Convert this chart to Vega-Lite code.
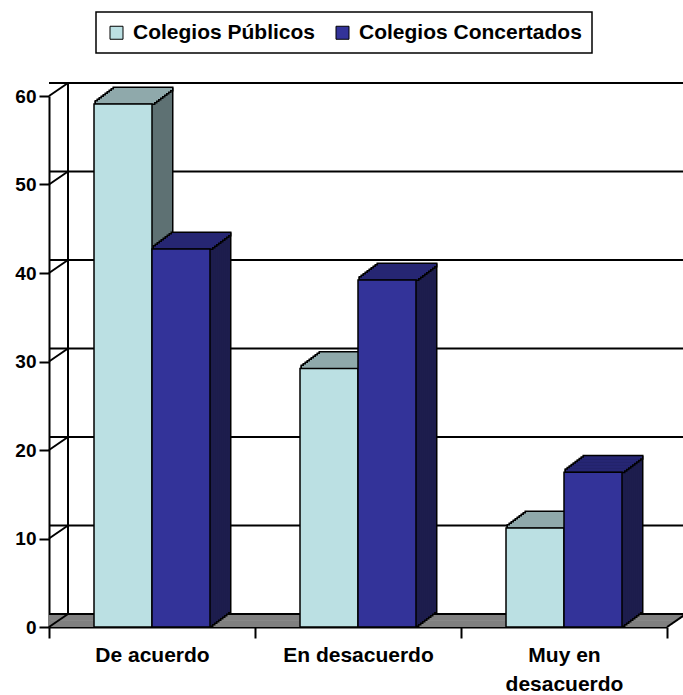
{
  "$schema": "https://vega.github.io/schema/vega-lite/v6.json",
  "width": 618,
  "height": 531,
  "autosize": {"type": "none"},
  "padding": {"left": 49, "top": 96, "right": 16, "bottom": 68},
  "background": "white",
  "config": {
    "view": {"stroke": null},
    "font": "Liberation Sans",
    "axis": {"domainColor": "black", "tickColor": "black", "labelColor": "black", "labelFont": "Liberation Sans", "labelFontWeight": "bold", "zindex": 1, "grid": false, "domainWidth": 2, "tickWidth": 2},
    "axisX": {"labelAngle": 0, "tickBand": "extent", "tickSize": 11, "labelPadding": 6, "labelFontSize": 21, "labelLineHeight": 29, "labelBaseline": "top", "labelExpr": "datum.value == 'Muy en desacuerdo' ? ['Muy en', 'desacuerdo'] : datum.value"},
    "axisY": {"tickCount": 6, "tickSize": 10, "labelPadding": 3, "labelFontSize": 19},
    "legend": {"strokeWidth": 1.5}
  },
  "datasets": {
    "bars": [
      {"cat": "De acuerdo", "serie": "Colegios Públicos", "v": 59.1},
      {"cat": "De acuerdo", "serie": "Colegios Concertados", "v": 42.7},
      {"cat": "En desacuerdo", "serie": "Colegios Públicos", "v": 29.2},
      {"cat": "En desacuerdo", "serie": "Colegios Concertados", "v": 39.2},
      {"cat": "Muy en desacuerdo", "serie": "Colegios Públicos", "v": 11.2},
      {"cat": "Muy en desacuerdo", "serie": "Colegios Concertados", "v": 17.5}
    ],
    "ticks": [{"t": 0}, {"t": 10}, {"t": 20}, {"t": 30}, {"t": 40}, {"t": 50}, {"t": 60}],
    "one": [{"k": 0}]
  },
  "layer": [
    {
      "data": {"name": "one"},
      "encoding": {"y": {"datum": 0, "type": "quantitative", "scale": {"domain": [0, 60], "nice": false}, "axis": {"title": null}}},
      "layer": [
        {"mark": {"type": "rule", "color": "#808080", "strokeWidth": 2.6, "xOffset": 2.71, "x2Offset": 2.71, "yOffset": -1.86}},
        {"mark": {"type": "rule", "color": "#808080", "strokeWidth": 2.6, "xOffset": 5.43, "x2Offset": 5.43, "yOffset": -3.71}},
        {"mark": {"type": "rule", "color": "#808080", "strokeWidth": 2.6, "xOffset": 8.14, "x2Offset": 8.14, "yOffset": -5.57}},
        {"mark": {"type": "rule", "color": "#808080", "strokeWidth": 2.6, "xOffset": 10.86, "x2Offset": 10.86, "yOffset": -7.43}},
        {"mark": {"type": "rule", "color": "#808080", "strokeWidth": 2.6, "xOffset": 13.57, "x2Offset": 13.57, "yOffset": -9.29}},
        {"mark": {"type": "rule", "color": "#808080", "strokeWidth": 2.6, "xOffset": 16.29, "x2Offset": 16.29, "yOffset": -11.14}}
      ]
    },
    {
      "data": {"name": "ticks"},
      "mark": {"type": "rule", "color": "black", "strokeWidth": 2, "xOffset": 19, "x2Offset": 80, "yOffset": -13},
      "encoding": {"y": {"field": "t", "type": "quantitative", "scale": {"domain": [0, 60], "nice": false}, "axis": {"title": null}}}
    },
    {
      "data": {"name": "ticks"},
      "mark": {"type": "rule", "color": "black", "strokeWidth": 2, "x2Offset": 19, "y2Offset": -13},
      "encoding": {
        "x": {"datum": "De acuerdo", "type": "nominal", "bandPosition": 0, "scale": {"domain": ["De acuerdo", "En desacuerdo", "Muy en desacuerdo"], "paddingInner": 0, "paddingOuter": 0}, "axis": {"title": null}},
        "x2": {"datum": "De acuerdo", "bandPosition": 0},
        "y": {"field": "t", "type": "quantitative", "scale": {"domain": [0, 60], "nice": false}, "axis": {"title": null}},
        "y2": {"field": "t"}
      }
    },
    {
      "data": {"name": "one"},
      "layer": [
        {
          "mark": {"type": "rule", "color": "black", "strokeWidth": 2, "xOffset": 19, "yOffset": -13, "y2Offset": -13},
          "encoding": {
            "x": {"datum": "De acuerdo", "type": "nominal", "bandPosition": 0, "scale": {"domain": ["De acuerdo", "En desacuerdo", "Muy en desacuerdo"], "paddingInner": 0, "paddingOuter": 0}, "axis": {"title": null}},
            "y": {"datum": 0, "type": "quantitative", "scale": {"domain": [0, 60], "nice": false}, "axis": {"title": null}},
            "y2": {"datum": 60}
          }
        },
        {
          "mark": {"type": "rule", "color": "black", "strokeWidth": 2, "x2Offset": 19, "y2Offset": -13},
          "encoding": {
            "x": {"datum": "Muy en desacuerdo", "type": "nominal", "bandPosition": 1, "scale": {"domain": ["De acuerdo", "En desacuerdo", "Muy en desacuerdo"], "paddingInner": 0, "paddingOuter": 0}, "axis": {"title": null}},
            "x2": {"datum": "Muy en desacuerdo", "bandPosition": 1},
            "y": {"datum": 0, "type": "quantitative", "scale": {"domain": [0, 60], "nice": false}, "axis": {"title": null}},
            "y2": {"datum": 0}
          }
        }
      ]
    },
    {
      "data": {"name": "bars"},
      "resolve": {"scale": {"xOffset": "independent"}},
      "encoding": {
        "x": {
          "field": "cat", "type": "nominal",
          "sort": ["De acuerdo", "En desacuerdo", "Muy en desacuerdo"],
          "scale": {"domain": ["De acuerdo", "En desacuerdo", "Muy en desacuerdo"], "paddingInner": 0, "paddingOuter": 0},
          "axis": {"title": null}
        },
        "xOffset": {
          "field": "serie", "type": "nominal",
          "sort": ["Colegios Públicos", "Colegios Concertados"],
          "scale": {"domain": ["Colegios Públicos", "Colegios Concertados"], "paddingInner": 0, "paddingOuter": 0.776}
        },
        "y": {
          "field": "v", "type": "quantitative",
          "scale": {"domain": [0, 60], "nice": false},
          "axis": {"title": null}
        }
      },
      "layer": [
        {"mark": {"type": "bar", "fill": "black", "stroke": "black", "strokeWidth": 3, "yOffset": -1.5, "y2Offset": -1.5}, "encoding": {"xOffset": {"field": "serie", "type": "nominal", "sort": ["Colegios Públicos", "Colegios Concertados"], "scale": {"domain": ["Colegios Públicos", "Colegios Concertados"], "paddingInner": 0, "paddingOuter": 0.776, "align": 0.52222}}}},
        {"mark": {"type": "bar", "fill": "black", "stroke": "black", "strokeWidth": 3, "yOffset": -3, "y2Offset": -3}, "encoding": {"xOffset": {"field": "serie", "type": "nominal", "sort": ["Colegios Públicos", "Colegios Concertados"], "scale": {"domain": ["Colegios Públicos", "Colegios Concertados"], "paddingInner": 0, "paddingOuter": 0.776, "align": 0.54444}}}},
        {"mark": {"type": "bar", "fill": "black", "stroke": "black", "strokeWidth": 3, "yOffset": -4.5, "y2Offset": -4.5}, "encoding": {"xOffset": {"field": "serie", "type": "nominal", "sort": ["Colegios Públicos", "Colegios Concertados"], "scale": {"domain": ["Colegios Públicos", "Colegios Concertados"], "paddingInner": 0, "paddingOuter": 0.776, "align": 0.56667}}}},
        {"mark": {"type": "bar", "fill": "black", "stroke": "black", "strokeWidth": 3, "yOffset": -6, "y2Offset": -6}, "encoding": {"xOffset": {"field": "serie", "type": "nominal", "sort": ["Colegios Públicos", "Colegios Concertados"], "scale": {"domain": ["Colegios Públicos", "Colegios Concertados"], "paddingInner": 0, "paddingOuter": 0.776, "align": 0.58889}}}},
        {"mark": {"type": "bar", "fill": "black", "stroke": "black", "strokeWidth": 3, "yOffset": -7.5, "y2Offset": -7.5}, "encoding": {"xOffset": {"field": "serie", "type": "nominal", "sort": ["Colegios Públicos", "Colegios Concertados"], "scale": {"domain": ["Colegios Públicos", "Colegios Concertados"], "paddingInner": 0, "paddingOuter": 0.776, "align": 0.61111}}}},
        {"mark": {"type": "bar", "fill": "black", "stroke": "black", "strokeWidth": 3, "yOffset": -9, "y2Offset": -9}, "encoding": {"xOffset": {"field": "serie", "type": "nominal", "sort": ["Colegios Públicos", "Colegios Concertados"], "scale": {"domain": ["Colegios Públicos", "Colegios Concertados"], "paddingInner": 0, "paddingOuter": 0.776, "align": 0.63333}}}},
        {"mark": {"type": "bar", "fill": "black", "stroke": "black", "strokeWidth": 3, "yOffset": -10.5, "y2Offset": -10.5}, "encoding": {"xOffset": {"field": "serie", "type": "nominal", "sort": ["Colegios Públicos", "Colegios Concertados"], "scale": {"domain": ["Colegios Públicos", "Colegios Concertados"], "paddingInner": 0, "paddingOuter": 0.776, "align": 0.65556}}}},
        {"mark": {"type": "bar", "fill": "black", "stroke": "black", "strokeWidth": 3, "yOffset": -12, "y2Offset": -12}, "encoding": {"xOffset": {"field": "serie", "type": "nominal", "sort": ["Colegios Públicos", "Colegios Concertados"], "scale": {"domain": ["Colegios Públicos", "Colegios Concertados"], "paddingInner": 0, "paddingOuter": 0.776, "align": 0.67778}}}},
        {"mark": {"type": "bar", "fill": "black", "stroke": "black", "strokeWidth": 3, "yOffset": -13.5, "y2Offset": -13.5}, "encoding": {"xOffset": {"field": "serie", "type": "nominal", "sort": ["Colegios Públicos", "Colegios Concertados"], "scale": {"domain": ["Colegios Públicos", "Colegios Concertados"], "paddingInner": 0, "paddingOuter": 0.776, "align": 0.7}}}},
        {"mark": {"type": "bar", "fill": "black", "stroke": "black", "strokeWidth": 3, "yOffset": -15, "y2Offset": -15}, "encoding": {"xOffset": {"field": "serie", "type": "nominal", "sort": ["Colegios Públicos", "Colegios Concertados"], "scale": {"domain": ["Colegios Públicos", "Colegios Concertados"], "paddingInner": 0, "paddingOuter": 0.776, "align": 0.72222}}}},

        {"mark": {"type": "bar", "strokeWidth": 0, "yOffset": -15, "y2Offset": -15}, "encoding": {"xOffset": {"field": "serie", "type": "nominal", "sort": ["Colegios Públicos", "Colegios Concertados"], "scale": {"domain": ["Colegios Públicos", "Colegios Concertados"], "paddingInner": 0, "paddingOuter": 0.776, "align": 0.72222}}, "fill": {"condition": {"test": "datum.serie === 'Colegios Públicos'", "value": "#5E7173"}, "value": "#1D1D4D"}}},
        {"mark": {"type": "bar", "strokeWidth": 0, "yOffset": -13.5, "y2Offset": -13.5}, "encoding": {"xOffset": {"field": "serie", "type": "nominal", "sort": ["Colegios Públicos", "Colegios Concertados"], "scale": {"domain": ["Colegios Públicos", "Colegios Concertados"], "paddingInner": 0, "paddingOuter": 0.776, "align": 0.7}}, "fill": {"condition": {"test": "datum.serie === 'Colegios Públicos'", "value": "#5E7173"}, "value": "#1D1D4D"}}},
        {"mark": {"type": "bar", "strokeWidth": 0, "yOffset": -12, "y2Offset": -12}, "encoding": {"xOffset": {"field": "serie", "type": "nominal", "sort": ["Colegios Públicos", "Colegios Concertados"], "scale": {"domain": ["Colegios Públicos", "Colegios Concertados"], "paddingInner": 0, "paddingOuter": 0.776, "align": 0.67778}}, "fill": {"condition": {"test": "datum.serie === 'Colegios Públicos'", "value": "#5E7173"}, "value": "#1D1D4D"}}},
        {"mark": {"type": "bar", "strokeWidth": 0, "yOffset": -10.5, "y2Offset": -10.5}, "encoding": {"xOffset": {"field": "serie", "type": "nominal", "sort": ["Colegios Públicos", "Colegios Concertados"], "scale": {"domain": ["Colegios Públicos", "Colegios Concertados"], "paddingInner": 0, "paddingOuter": 0.776, "align": 0.65556}}, "fill": {"condition": {"test": "datum.serie === 'Colegios Públicos'", "value": "#5E7173"}, "value": "#1D1D4D"}}},
        {"mark": {"type": "bar", "strokeWidth": 0, "yOffset": -9, "y2Offset": -9}, "encoding": {"xOffset": {"field": "serie", "type": "nominal", "sort": ["Colegios Públicos", "Colegios Concertados"], "scale": {"domain": ["Colegios Públicos", "Colegios Concertados"], "paddingInner": 0, "paddingOuter": 0.776, "align": 0.63333}}, "fill": {"condition": {"test": "datum.serie === 'Colegios Públicos'", "value": "#5E7173"}, "value": "#1D1D4D"}}},
        {"mark": {"type": "bar", "strokeWidth": 0, "yOffset": -7.5, "y2Offset": -7.5}, "encoding": {"xOffset": {"field": "serie", "type": "nominal", "sort": ["Colegios Públicos", "Colegios Concertados"], "scale": {"domain": ["Colegios Públicos", "Colegios Concertados"], "paddingInner": 0, "paddingOuter": 0.776, "align": 0.61111}}, "fill": {"condition": {"test": "datum.serie === 'Colegios Públicos'", "value": "#5E7173"}, "value": "#1D1D4D"}}},
        {"mark": {"type": "bar", "strokeWidth": 0, "yOffset": -6, "y2Offset": -6}, "encoding": {"xOffset": {"field": "serie", "type": "nominal", "sort": ["Colegios Públicos", "Colegios Concertados"], "scale": {"domain": ["Colegios Públicos", "Colegios Concertados"], "paddingInner": 0, "paddingOuter": 0.776, "align": 0.58889}}, "fill": {"condition": {"test": "datum.serie === 'Colegios Públicos'", "value": "#5E7173"}, "value": "#1D1D4D"}}},
        {"mark": {"type": "bar", "strokeWidth": 0, "yOffset": -4.5, "y2Offset": -4.5}, "encoding": {"xOffset": {"field": "serie", "type": "nominal", "sort": ["Colegios Públicos", "Colegios Concertados"], "scale": {"domain": ["Colegios Públicos", "Colegios Concertados"], "paddingInner": 0, "paddingOuter": 0.776, "align": 0.56667}}, "fill": {"condition": {"test": "datum.serie === 'Colegios Públicos'", "value": "#5E7173"}, "value": "#1D1D4D"}}},
        {"mark": {"type": "bar", "strokeWidth": 0, "yOffset": -3, "y2Offset": -3}, "encoding": {"xOffset": {"field": "serie", "type": "nominal", "sort": ["Colegios Públicos", "Colegios Concertados"], "scale": {"domain": ["Colegios Públicos", "Colegios Concertados"], "paddingInner": 0, "paddingOuter": 0.776, "align": 0.54444}}, "fill": {"condition": {"test": "datum.serie === 'Colegios Públicos'", "value": "#5E7173"}, "value": "#1D1D4D"}}},
        {"mark": {"type": "bar", "strokeWidth": 0, "yOffset": -1.5, "y2Offset": -1.5}, "encoding": {"xOffset": {"field": "serie", "type": "nominal", "sort": ["Colegios Públicos", "Colegios Concertados"], "scale": {"domain": ["Colegios Públicos", "Colegios Concertados"], "paddingInner": 0, "paddingOuter": 0.776, "align": 0.52222}}, "fill": {"condition": {"test": "datum.serie === 'Colegios Públicos'", "value": "#5E7173"}, "value": "#1D1D4D"}}},

        {"mark": {"type": "bar", "fill": "black", "stroke": "black", "strokeWidth": 3, "yOffset": -2.5, "y2Offset": -0.5}, "encoding": {"y2": {"field": "v"}, "xOffset": {"field": "serie", "type": "nominal", "sort": ["Colegios Públicos", "Colegios Concertados"], "scale": {"domain": ["Colegios Públicos", "Colegios Concertados"], "paddingInner": 0, "paddingOuter": 0.776, "align": 0.52222}}}},
        {"mark": {"type": "bar", "fill": "black", "stroke": "black", "strokeWidth": 3, "yOffset": -4, "y2Offset": -2}, "encoding": {"y2": {"field": "v"}, "xOffset": {"field": "serie", "type": "nominal", "sort": ["Colegios Públicos", "Colegios Concertados"], "scale": {"domain": ["Colegios Públicos", "Colegios Concertados"], "paddingInner": 0, "paddingOuter": 0.776, "align": 0.54444}}}},
        {"mark": {"type": "bar", "fill": "black", "stroke": "black", "strokeWidth": 3, "yOffset": -5.5, "y2Offset": -3.5}, "encoding": {"y2": {"field": "v"}, "xOffset": {"field": "serie", "type": "nominal", "sort": ["Colegios Públicos", "Colegios Concertados"], "scale": {"domain": ["Colegios Públicos", "Colegios Concertados"], "paddingInner": 0, "paddingOuter": 0.776, "align": 0.56667}}}},
        {"mark": {"type": "bar", "fill": "black", "stroke": "black", "strokeWidth": 3, "yOffset": -7, "y2Offset": -5}, "encoding": {"y2": {"field": "v"}, "xOffset": {"field": "serie", "type": "nominal", "sort": ["Colegios Públicos", "Colegios Concertados"], "scale": {"domain": ["Colegios Públicos", "Colegios Concertados"], "paddingInner": 0, "paddingOuter": 0.776, "align": 0.58889}}}},
        {"mark": {"type": "bar", "fill": "black", "stroke": "black", "strokeWidth": 3, "yOffset": -8.5, "y2Offset": -6.5}, "encoding": {"y2": {"field": "v"}, "xOffset": {"field": "serie", "type": "nominal", "sort": ["Colegios Públicos", "Colegios Concertados"], "scale": {"domain": ["Colegios Públicos", "Colegios Concertados"], "paddingInner": 0, "paddingOuter": 0.776, "align": 0.61111}}}},
        {"mark": {"type": "bar", "fill": "black", "stroke": "black", "strokeWidth": 3, "yOffset": -10, "y2Offset": -8}, "encoding": {"y2": {"field": "v"}, "xOffset": {"field": "serie", "type": "nominal", "sort": ["Colegios Públicos", "Colegios Concertados"], "scale": {"domain": ["Colegios Públicos", "Colegios Concertados"], "paddingInner": 0, "paddingOuter": 0.776, "align": 0.63333}}}},
        {"mark": {"type": "bar", "fill": "black", "stroke": "black", "strokeWidth": 3, "yOffset": -11.5, "y2Offset": -9.5}, "encoding": {"y2": {"field": "v"}, "xOffset": {"field": "serie", "type": "nominal", "sort": ["Colegios Públicos", "Colegios Concertados"], "scale": {"domain": ["Colegios Públicos", "Colegios Concertados"], "paddingInner": 0, "paddingOuter": 0.776, "align": 0.65556}}}},
        {"mark": {"type": "bar", "fill": "black", "stroke": "black", "strokeWidth": 3, "yOffset": -13, "y2Offset": -11}, "encoding": {"y2": {"field": "v"}, "xOffset": {"field": "serie", "type": "nominal", "sort": ["Colegios Públicos", "Colegios Concertados"], "scale": {"domain": ["Colegios Públicos", "Colegios Concertados"], "paddingInner": 0, "paddingOuter": 0.776, "align": 0.67778}}}},
        {"mark": {"type": "bar", "fill": "black", "stroke": "black", "strokeWidth": 3, "yOffset": -14.5, "y2Offset": -12.5}, "encoding": {"y2": {"field": "v"}, "xOffset": {"field": "serie", "type": "nominal", "sort": ["Colegios Públicos", "Colegios Concertados"], "scale": {"domain": ["Colegios Públicos", "Colegios Concertados"], "paddingInner": 0, "paddingOuter": 0.776, "align": 0.7}}}},
        {"mark": {"type": "bar", "fill": "black", "stroke": "black", "strokeWidth": 3, "yOffset": -16, "y2Offset": -14}, "encoding": {"y2": {"field": "v"}, "xOffset": {"field": "serie", "type": "nominal", "sort": ["Colegios Públicos", "Colegios Concertados"], "scale": {"domain": ["Colegios Públicos", "Colegios Concertados"], "paddingInner": 0, "paddingOuter": 0.776, "align": 0.72222}}}},

        {"mark": {"type": "bar", "strokeWidth": 0, "yOffset": -2.5, "y2Offset": -0.5}, "encoding": {"y2": {"field": "v"}, "xOffset": {"field": "serie", "type": "nominal", "sort": ["Colegios Públicos", "Colegios Concertados"], "scale": {"domain": ["Colegios Públicos", "Colegios Concertados"], "paddingInner": 0, "paddingOuter": 0.776, "align": 0.52222}}, "fill": {"condition": {"test": "datum.serie === 'Colegios Públicos'", "value": "#8FA9AB"}, "value": "#262673"}}},
        {"mark": {"type": "bar", "strokeWidth": 0, "yOffset": -4, "y2Offset": -2}, "encoding": {"y2": {"field": "v"}, "xOffset": {"field": "serie", "type": "nominal", "sort": ["Colegios Públicos", "Colegios Concertados"], "scale": {"domain": ["Colegios Públicos", "Colegios Concertados"], "paddingInner": 0, "paddingOuter": 0.776, "align": 0.54444}}, "fill": {"condition": {"test": "datum.serie === 'Colegios Públicos'", "value": "#8FA9AB"}, "value": "#262673"}}},
        {"mark": {"type": "bar", "strokeWidth": 0, "yOffset": -5.5, "y2Offset": -3.5}, "encoding": {"y2": {"field": "v"}, "xOffset": {"field": "serie", "type": "nominal", "sort": ["Colegios Públicos", "Colegios Concertados"], "scale": {"domain": ["Colegios Públicos", "Colegios Concertados"], "paddingInner": 0, "paddingOuter": 0.776, "align": 0.56667}}, "fill": {"condition": {"test": "datum.serie === 'Colegios Públicos'", "value": "#8FA9AB"}, "value": "#262673"}}},
        {"mark": {"type": "bar", "strokeWidth": 0, "yOffset": -7, "y2Offset": -5}, "encoding": {"y2": {"field": "v"}, "xOffset": {"field": "serie", "type": "nominal", "sort": ["Colegios Públicos", "Colegios Concertados"], "scale": {"domain": ["Colegios Públicos", "Colegios Concertados"], "paddingInner": 0, "paddingOuter": 0.776, "align": 0.58889}}, "fill": {"condition": {"test": "datum.serie === 'Colegios Públicos'", "value": "#8FA9AB"}, "value": "#262673"}}},
        {"mark": {"type": "bar", "strokeWidth": 0, "yOffset": -8.5, "y2Offset": -6.5}, "encoding": {"y2": {"field": "v"}, "xOffset": {"field": "serie", "type": "nominal", "sort": ["Colegios Públicos", "Colegios Concertados"], "scale": {"domain": ["Colegios Públicos", "Colegios Concertados"], "paddingInner": 0, "paddingOuter": 0.776, "align": 0.61111}}, "fill": {"condition": {"test": "datum.serie === 'Colegios Públicos'", "value": "#8FA9AB"}, "value": "#262673"}}},
        {"mark": {"type": "bar", "strokeWidth": 0, "yOffset": -10, "y2Offset": -8}, "encoding": {"y2": {"field": "v"}, "xOffset": {"field": "serie", "type": "nominal", "sort": ["Colegios Públicos", "Colegios Concertados"], "scale": {"domain": ["Colegios Públicos", "Colegios Concertados"], "paddingInner": 0, "paddingOuter": 0.776, "align": 0.63333}}, "fill": {"condition": {"test": "datum.serie === 'Colegios Públicos'", "value": "#8FA9AB"}, "value": "#262673"}}},
        {"mark": {"type": "bar", "strokeWidth": 0, "yOffset": -11.5, "y2Offset": -9.5}, "encoding": {"y2": {"field": "v"}, "xOffset": {"field": "serie", "type": "nominal", "sort": ["Colegios Públicos", "Colegios Concertados"], "scale": {"domain": ["Colegios Públicos", "Colegios Concertados"], "paddingInner": 0, "paddingOuter": 0.776, "align": 0.65556}}, "fill": {"condition": {"test": "datum.serie === 'Colegios Públicos'", "value": "#8FA9AB"}, "value": "#262673"}}},
        {"mark": {"type": "bar", "strokeWidth": 0, "yOffset": -13, "y2Offset": -11}, "encoding": {"y2": {"field": "v"}, "xOffset": {"field": "serie", "type": "nominal", "sort": ["Colegios Públicos", "Colegios Concertados"], "scale": {"domain": ["Colegios Públicos", "Colegios Concertados"], "paddingInner": 0, "paddingOuter": 0.776, "align": 0.67778}}, "fill": {"condition": {"test": "datum.serie === 'Colegios Públicos'", "value": "#8FA9AB"}, "value": "#262673"}}},
        {"mark": {"type": "bar", "strokeWidth": 0, "yOffset": -14.5, "y2Offset": -12.5}, "encoding": {"y2": {"field": "v"}, "xOffset": {"field": "serie", "type": "nominal", "sort": ["Colegios Públicos", "Colegios Concertados"], "scale": {"domain": ["Colegios Públicos", "Colegios Concertados"], "paddingInner": 0, "paddingOuter": 0.776, "align": 0.7}}, "fill": {"condition": {"test": "datum.serie === 'Colegios Públicos'", "value": "#8FA9AB"}, "value": "#262673"}}},
        {"mark": {"type": "bar", "strokeWidth": 0, "yOffset": -16, "y2Offset": -14}, "encoding": {"y2": {"field": "v"}, "xOffset": {"field": "serie", "type": "nominal", "sort": ["Colegios Públicos", "Colegios Concertados"], "scale": {"domain": ["Colegios Públicos", "Colegios Concertados"], "paddingInner": 0, "paddingOuter": 0.776, "align": 0.72222}}, "fill": {"condition": {"test": "datum.serie === 'Colegios Públicos'", "value": "#8FA9AB"}, "value": "#262673"}}},

        {
          "mark": {"type": "bar", "stroke": "black", "strokeWidth": 1.5},
          "encoding": {
            "color": {
              "field": "serie", "type": "nominal",
              "scale": {"domain": ["Colegios Públicos", "Colegios Concertados"], "range": ["#BBE0E3", "#333399"]},
              "legend": {"title": null, "orient": "none", "legendX": 47, "legendY": -84, "direction": "horizontal", "symbolType": "square", "symbolSize": 169, "symbolStrokeColor": "black", "symbolStrokeWidth": 1, "labelFont": "Liberation Sans", "labelFontSize": 21, "labelFontWeight": "bold", "labelColor": "black", "labelLimit": 400, "strokeColor": "black", "fillColor": "white", "padding": 10, "columnPadding": 16, "labelOffset": 6}
            }
          }
        }
      ]
    }
  ]
}
